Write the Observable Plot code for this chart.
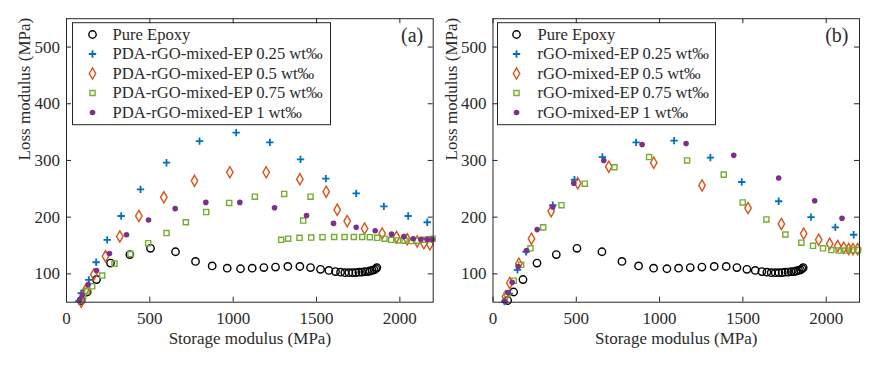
<!DOCTYPE html>
<html><head><meta charset="utf-8">
<script src="https://cdn.jsdelivr.net/npm/d3@7"></script>
<script src="https://cdn.jsdelivr.net/npm/@observablehq/plot@0.6"></script>
<style>
html,body{margin:0;padding:0;background:#fff;}
#row{display:flex;width:886px;height:366px;overflow:hidden;}
svg text{font-family:"Liberation Serif", serif;}
</style></head><body><div id="row"></div>
<script>
// ---------- data ----------
const xTicks = [0, 500, 1000, 1500, 2000];
const yTicks = [100, 200, 300, 400, 500];
const legendA = ["Pure Epoxy", "PDA-rGO-mixed-EP 0.25 wt‰", "PDA-rGO-mixed-EP 0.5 wt‰", "PDA-rGO-mixed-EP 0.75 wt‰", "PDA-rGO-mixed-EP 1 wt‰"];
const legendB = ["Pure Epoxy", "rGO-mixed-EP 0.25 wt‰", "rGO-mixed-EP 0.5 wt‰", "rGO-mixed-EP 0.75 wt‰", "rGO-mixed-EP 1 wt‰"];

const pureEpoxy = [[88,53],[124,68],[180,90],[264,119],[380,134],[504,145],[654,139],[774,122],[874,114],[964,110],[1044,109],[1114,110],[1184,111],[1254,112],[1328,113],[1400,113],[1464,111],[1524,108],[1574,106],[1614,104],[1644,103],[1670,102],[1694,102],[1716,102],[1736,102],[1754,103],[1772,103],[1790,104],[1806,104],[1820,105],[1834,106],[1846,107],[1856,109],[1862,111]];

const a025 = [[74,52],[88,66],[134,89.5],[178,120.5],[244,160],[328,202],[444,249],[600,296],[798,334],[1018,349],[1220,332],[1404,302],[1556,268],[1738,242],[1904,219],[2050,202],[2164,191]];
const a050 = [[88,51],[114,71],[164,99],[234,131],[320,166],[434,202],[584,235],[768,264],[980,279],[1198,279],[1400,267],[1558,245],[1624,213],[1684,193],[1788,180],[1894,171],[1980,165],[2044,161],[2104,157],[2144,154],[2180,152]];
const a075 = [[100,60],[124,70],[154,78],[214,97],[288,118],[384,135],[490,154],[600,172],[716,191],[838,209],[976,225],[1130,236],[1306,241],[1464,236],[1420,194],[1288,160],[1330,162],[1398,163.5],[1468,164],[1536,164.6],[1606,165],[1668,165],[1724,165],[1774,165],[1820,164.6],[1864,163.5],[1908,162],[1948,160],[1988,159],[2028,158.6],[2068,158],[2104,158.6],[2140,160],[2174,161],[2196,162]];
const a100 = [[78,54],[94,62],[130,81],[180,106],[258,136],[360,169],[492,195],[652,215],[836,226],[1040,226],[1248,216.5],[1440,203],[1602,189],[1738,182],[1852,176],[1950,170],[2024,166],[2080,162],[2126,160.6],[2164,160.6],[2194,160.6]];

const b025 = [[69,51],[99,65],[147,107],[199,139],[359,221],[489,266],[657,306],[859,332],[1087,335],[1305,305],[1493,262],[1715,228],[1909,200],[2055,182],[2165,169]];
const b050 = [[75,60],[101,84],[155,118],[231,162],[349,210.5],[509,260],[695,289],[965,296],[1255,256],[1531,216],[1731,188],[1865,171],[1955,160],[2021,153],[2069,149],[2105,146],[2135,144],[2161,143.6],[2189,143.6]];
const b075 = [[85,64],[125,88],[169,116],[225,145],[301,182],[411,221],[551,259],[729,288],[937,306],[1165,300],[1385,275],[1499,226],[1641,196],[1755,169.4],[1851,155],[1921,149.5],[1981,145],[2031,142],[2075,141],[2115,141],[2155,142],[2191,142]];
const b100 = [[69,52],[89,67],[115,85],[151,113],[201,141],[265,178],[359,218],[485,260],[665,300],[895,328],[1159,330],[1445,309],[1715,269],[1931,229],[2095,198]];

// ---------- styles ----------
const styles = [
  {symbol: "circle", stroke: "#000000", fill: "none", r: 3.7, strokeWidth: 1.4},
  {symbol: "plus", stroke: "#0072BD", fill: "none", r: 2.5, strokeWidth: 1.8},
  {symbol: "diamond", stroke: "#D95319", fill: "none", r: 3.4, strokeWidth: 1.4},
  {symbol: "square", stroke: "#77AC30", fill: "none", r: 2.9, strokeWidth: 1.4},
  {symbol: "circle", stroke: "none", fill: "#7E2F8E", r: 2.8, strokeWidth: 0}
];
const FONT = "'Liberation Serif', serif";
const INK = "#2b2b2b";

function panel(cfg) {
  const W = 443, H = 366;
  const pw = W - cfg.ml - cfg.mr, ph = H - cfg.mt - cfg.mb;
  const marks = [];
  cfg.series.forEach((s, i) => {
    marks.push(Plot.dot(s, {x: d => d[0], y: d => d[1], ...styles[i]}));
  });
  // legend box
  marks.push(Plot.frame({fill: "white", stroke: "#262626", strokeWidth: 1,
    insetLeft: cfg.lgLeft, insetTop: 4, insetRight: pw - cfg.lgRight, insetBottom: ph - 106}));
  cfg.legend.forEach((name, i) => {
    marks.push(Plot.dot([0], {frameAnchor: "top-left", dx: cfg.lgMark, dy: 15.8 + i * 19.5, ...styles[i]}));
    marks.push(Plot.text([name], {text: d => d, frameAnchor: "top-left", dx: cfg.lgText, dy: 15.8 + i * 19.5,
      textAnchor: "start", lineAnchor: "middle", fontSize: 16.6, fontFamily: FONT, fill: INK}));
  });
  // panel tag
  marks.push(Plot.text([cfg.tag], {text: d => d, frameAnchor: "top-right", dx: cfg.tagDx, dy: 17,
    textAnchor: "end", lineAnchor: "middle", fontSize: 20, fontFamily: FONT, fill: INK}));
  // frame and inward ticks
  marks.push(Plot.frame({stroke: "#262626", strokeWidth: 1}));
  marks.push(Plot.tickX(xTicks, {x: d => d, insetTop: ph - 5, stroke: "#262626"}));
  marks.push(Plot.tickX(xTicks, {x: d => d, insetBottom: ph - 5, stroke: "#262626"}));
  marks.push(Plot.tickY(yTicks, {y: d => d, insetRight: pw - 5, stroke: "#262626"}));
  marks.push(Plot.tickY(yTicks, {y: d => d, insetLeft: pw - 5, stroke: "#262626"}));
  marks.push(Plot.axisX({ticks: xTicks, tickFormat: d => String(d), tickSize: 0, tickPadding: 10, label: null, fill: INK, fontFamily: FONT}));
  marks.push(Plot.axisY({ticks: yTicks, tickFormat: d => String(d), tickSize: 0, tickPadding: 6.5, label: null, fill: INK, fontFamily: FONT}));
  // axis titles
  marks.push(Plot.text(["Storage modulus (MPa)"], {text: d => d, frameAnchor: "bottom", dy: 36.5,
    lineAnchor: "middle", fontSize: 17, fontFamily: FONT, fill: INK}));
  marks.push(Plot.text(["Loss modulus (MPa)"], {text: d => d, frameAnchor: "left", dx: cfg.ylabDx,
    rotate: -90, lineAnchor: "middle", fontSize: 17, fontFamily: FONT, fill: INK}));

  return Plot.plot({
    width: W, height: H,
    marginLeft: cfg.ml, marginRight: cfg.mr, marginTop: cfg.mt, marginBottom: cfg.mb,
    x: {domain: [0, 2200]},
    y: {domain: [50, 550]},
    style: {fontFamily: FONT, fontSize: "17px", background: "white", overflow: "visible"},
    marks
  });
}

const row = document.getElementById("row");
row.appendChild(panel({
  ml: 66, mr: 10.3, mt: 18.2, mb: 64.3,
  series: [pureEpoxy, a025, a050, a075, a100], legend: legendA, tag: "(a)", tagDx: -10,
  lgLeft: 6, lgRight: 264, lgMark: 26, lgText: 46, ylabDx: -42
}));
row.appendChild(panel({
  ml: 49.5, mr: 27, mt: 18.2, mb: 64.3,
  series: [pureEpoxy, b025, b050, b075, b100], legend: legendB, tag: "(b)", tagDx: -11,
  lgLeft: 4.5, lgRight: 222.5, lgMark: 23.5, lgText: 44.5, ylabDx: -41.5
}));
</script></body></html>
